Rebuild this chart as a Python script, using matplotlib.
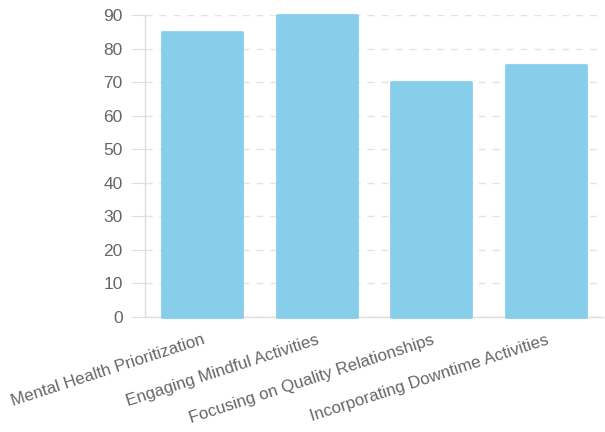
import matplotlib.pyplot as plt

categories = ["Mental Health Prioritization", "Engaging Mindful Activities",
              "Focusing on Quality Relationships", "Incorporating Downtime Activities"]
values = [85, 90, 70, 75]
yticks = [0, 10, 20, 30, 40, 50, 60, 70, 80, 90]

plt.rcParams['font.family'] = ['Liberation Sans', 'DejaVu Sans']

fig = plt.figure(figsize=(6.05, 4.32), dpi=100)
ax = fig.add_axes([0.2397, 0.2662, 0.757, 0.6991])

bars = ax.bar(range(len(categories)), values, width=0.7, color='#87CEEB',
              edgecolor='#87CEEB', linewidth=2, joinstyle='round', zorder=3,
              clip_on=False)

ax.set_xlim(-0.5, len(categories) - 0.5)
ax.set_ylim(0, 90)
ax.set_yticks(yticks)
ax.set_xticks(range(len(categories)))
ax.set_xticklabels(categories, rotation=18, ha='right', rotation_mode='anchor')

ax.yaxis.grid(True, linestyle=(0, (5, 5)), color='#e3e3e3', linewidth=1, zorder=0)
ax.set_axisbelow(True)

for s in ['top', 'right']:
    ax.spines[s].set_visible(False)
for s in ['left', 'bottom']:
    ax.spines[s].set_color('#dddddd')
    ax.spines[s].set_linewidth(1)

ax.tick_params(axis='y', colors='#dddddd', labelcolor='#666666', labelsize=12.5,
               length=10, pad=6)
ax.tick_params(axis='x', length=0, labelcolor='#666666', labelsize=12.2, pad=11)

plt.savefig("out.png", dpi=100)
